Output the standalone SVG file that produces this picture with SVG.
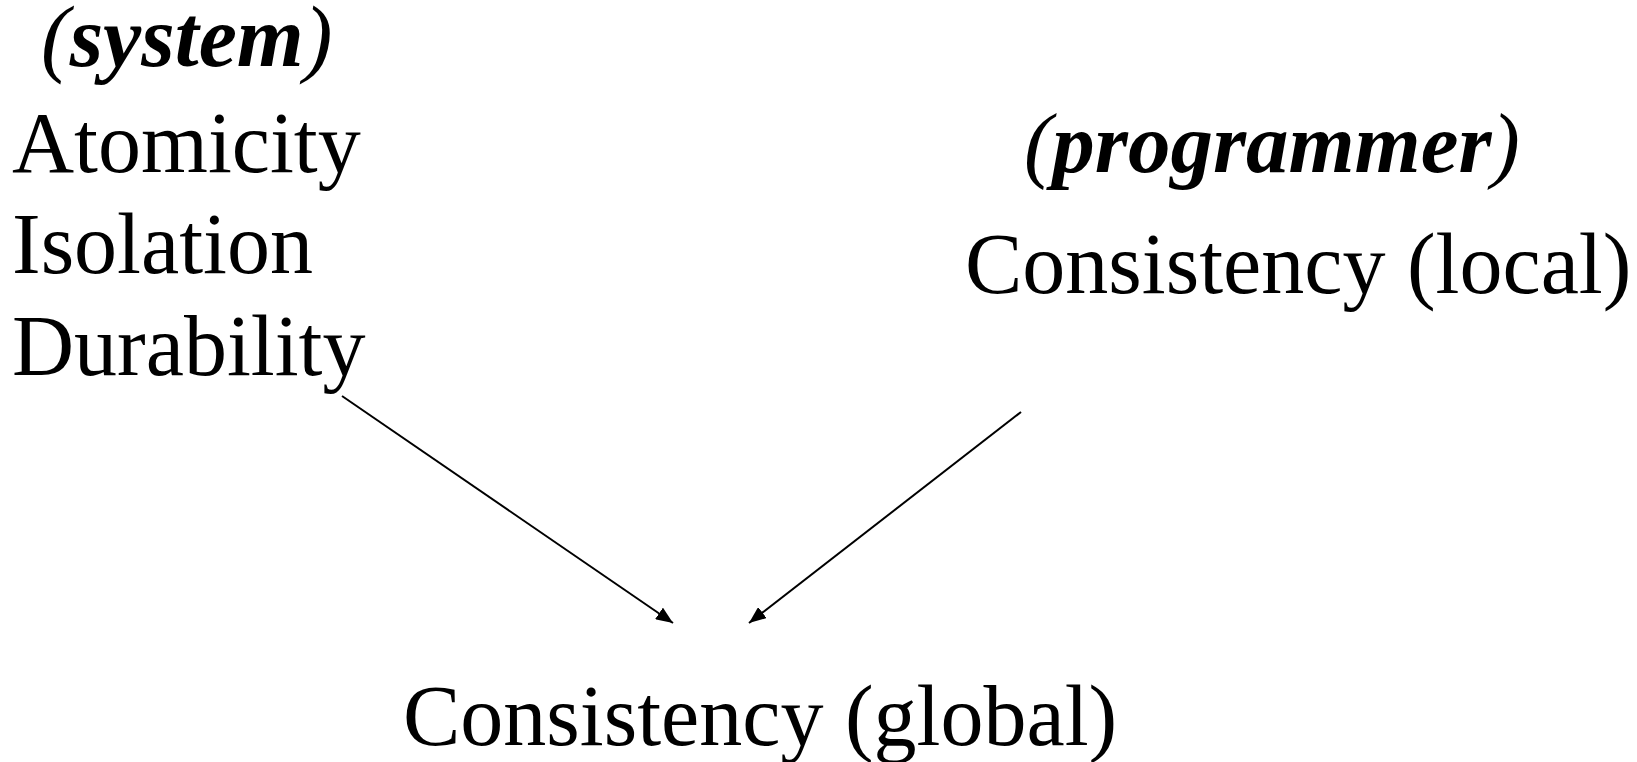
<svg xmlns="http://www.w3.org/2000/svg" width="1637" height="762" viewBox="0 0 1637 762">
  <style>
    text { font-family: "Liberation Serif", "Times New Roman", serif; font-size: 86px; fill: #000; }
    .role { font-weight: bold; font-style: italic; font-size: 85px; }
    .paren { font-weight: normal; font-style: italic; }
    .edge { stroke: #000; stroke-width: 2; fill: none; marker-end: url(#arrow); }
  </style>
  <defs>
    <marker id="arrow" markerUnits="userSpaceOnUse" markerWidth="18" markerHeight="14" refX="17" refY="7" orient="auto">
      <path d="M0,0 L17,7 L0,14 Z" fill="#000"/>
    </marker>
  </defs>

  <!-- system-side properties -->
  <g id="system">
    <text x="41" y="66" class="role" style="font-size:86px"><tspan class="paren">(</tspan>system<tspan class="paren">)</tspan></text>
    <text x="12" y="172">Atomicity</text>
    <text x="12" y="273">Isolation</text>
    <text x="12" y="375">Durability</text>
  </g>

  <!-- programmer-side property -->
  <g id="programmer">
    <text x="1024" y="172" class="role"><tspan class="paren">(</tspan>programmer<tspan class="paren">)</tspan></text>
    <text x="965" y="293">Consistency (local)</text>
  </g>

  <!-- combined result -->
  <g id="global">
    <text x="403" y="745">Consistency (global)</text>
  </g>

  <g id="connectors">
    <line class="edge" x1="342" y1="396" x2="673" y2="623"/>
    <line class="edge" x1="1021" y1="412" x2="749" y2="623"/>
  </g>
</svg>
